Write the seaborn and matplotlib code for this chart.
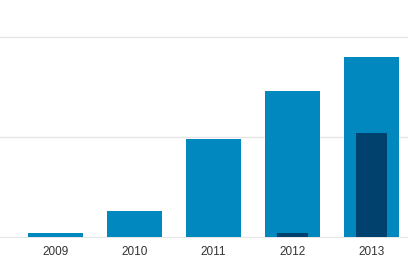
import matplotlib
matplotlib.use("Agg")
import matplotlib.pyplot as plt
import seaborn as sns
import pandas as pd

years = ["2009", "2010", "2011", "2012", "2013"]
total = [4, 26, 98, 146, 180]
subset = [0, 0, 0, 4, 104]

sns.set_theme(style="white")
plt.rcParams['font.family'] = ['Liberation Sans', 'DejaVu Sans']

fig = plt.figure(figsize=(4.08, 2.62), dpi=100)
ax = fig.add_axes([0, 24/262, 1, 238/262])

df = pd.DataFrame({"year": years, "total": total, "subset": subset})
sns.barplot(data=df, x="year", y="total", color="#0088BF", saturation=1,
            width=0.70, ax=ax, zorder=3, linewidth=0)
sns.barplot(data=df, x="year", y="subset", color="#00426D", saturation=1,
            width=0.39, ax=ax, zorder=4, linewidth=0)

ax.set_xlim(-0.703, 4.462)
ax.set_ylim(-1, 237)
ax.set_yticks([0, 100, 200])
ax.yaxis.grid(True, color="#e6e6e6", linewidth=1, zorder=0)
ax.set_yticklabels([])
ax.tick_params(axis="y", length=0)
ax.tick_params(axis="x", length=3, width=0.8, color="#ccd6eb",
               labelsize=8.5, labelcolor="#333333", pad=3)
for s in ax.spines.values():
    s.set_visible(False)
ax.set_xlabel("")
ax.set_ylabel("")
fig.savefig("out.png", dpi=100)
